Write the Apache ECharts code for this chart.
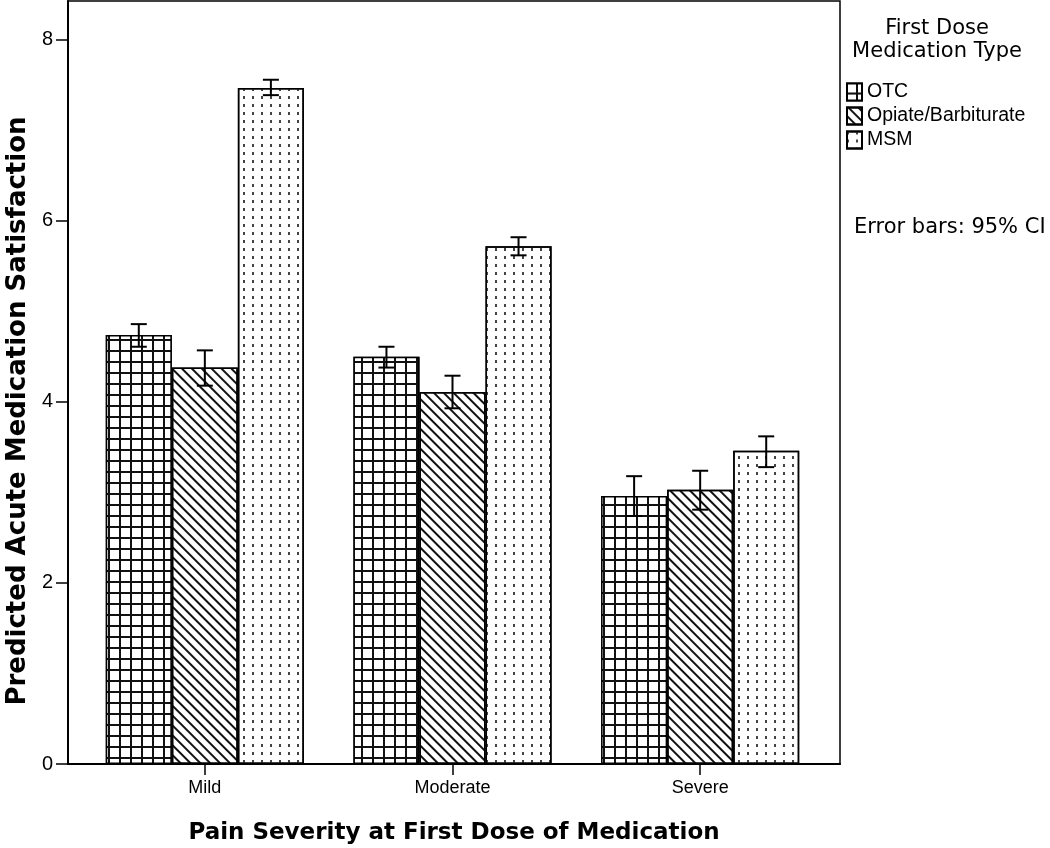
<!DOCTYPE html>
<html><head><meta charset="utf-8">
<script src="https://cdn.jsdelivr.net/npm/echarts@6/dist/echarts.min.js"></script>
<style>html,body{margin:0;padding:0;background:#fff}#c{width:1050px;height:848px}</style>
</head><body><div id="c"></div>
<script>
const categories = ['Mild', 'Moderate', 'Severe'];
const seriesNames = ['OTC', 'Opiate/Barbiturate', 'MSM'];
const otcMean = [4.74, 4.50, 2.96];
const otcLow = [4.61, 4.38, 2.74];
const otcHigh = [4.86, 4.61, 3.18];
const opiMean = [4.38, 4.11, 3.03];
const opiLow = [4.18, 3.93, 2.81];
const opiHigh = [4.57, 4.29, 3.24];
const msmMean = [7.47, 5.72, 3.46];
const msmLow = [7.39, 5.62, 3.28];
const msmHigh = [7.56, 5.82, 3.62];
const yTicks = [0, 2, 4, 6, 8];
const yMax = 8.43;

const means = [otcMean, opiMean, msmMean];
const lows = [otcLow, opiLow, msmLow];
const highs = [otcHigh, opiHigh, msmHigh];

const decals = [
  { symbol: 'rect', symbolSize: 1, symbolKeepAspect: false, color: '#fff', dashArrayX: [9, 2], dashArrayY: [9, 2] },
  { symbol: 'rect', symbolSize: 1, symbolKeepAspect: false, color: '#111', dashArrayX: [2, 5], dashArrayY: [10, 0], rotation: -Math.PI / 4 },
  { symbol: 'rect', symbolSize: 1, symbolKeepAspect: false, color: '#444', dashArrayX: [2, 7], dashArrayY: [3, 5] }
];
const fills = ['#111', '#fff', '#fff'];

const chart = echarts.init(document.getElementById('c'), null, { renderer: 'canvas' });

const barSeries = seriesNames.map((n, i) => ({
  name: n, type: 'bar', xAxisIndex: 1, yAxisIndex: 1,
  data: means[i], barGap: '0%', barCategoryGap: '20%',
  itemStyle: { color: fills[i], borderColor: '#000', borderWidth: 1.5, decal: decals[i] },
  emphasis: { disabled: true }, z: 2
}));

const errSeries = seriesNames.map((n, i) => ({
  name: 'err' + i, type: 'custom', xAxisIndex: 1, yAxisIndex: 1, z: 5,
  data: categories.map((c, k) => [k, lows[i][k], highs[i][k]]),
  encode: { x: 0, y: [1, 2] },
  renderItem: function (params, api) {
    const k = api.value(0);
    const pLo = api.coord([k, api.value(1)]);
    const pHi = api.coord([k, api.value(2)]);
    const band = api.size([1, 0])[0];
    const bw = band * 0.8 / 3;
    const x = pLo[0] + (i - 1) * bw;
    const cap = 8;
    const st = { stroke: '#000', lineWidth: 2 };
    return { type: 'group', children: [
      { type: 'line', shape: { x1: x, y1: pHi[1], x2: x, y2: pLo[1] }, style: st },
      { type: 'line', shape: { x1: x - cap, y1: pHi[1], x2: x + cap, y2: pHi[1] }, style: st },
      { type: 'line', shape: { x1: x - cap, y1: pLo[1], x2: x + cap, y2: pLo[1] }, style: st }
    ]};
  }
}));

const option = {
  animation: false,
  backgroundColor: '#fff',
  grid: [
    { left: 68, right: 210, top: 1, bottom: 84, show: true, borderColor: '#000', borderWidth: 1.5, backgroundColor: 'transparent', outerBoundsMode: 'none', containLabel: false },
    { left: 81, right: 226, top: 1, bottom: 84, outerBoundsMode: 'none', containLabel: false }
  ],
  xAxis: [
    { type: 'value', gridIndex: 0, min: 0, max: 1, axisLabel: { show: false }, axisTick: { show: false }, splitLine: { show: false },
      axisLine: { show: true, lineStyle: { color: '#000', width: 2 } },
      name: 'Pain Severity at First Dose of Medication', nameLocation: 'middle', nameGap: 58,
      nameTextStyle: { fontFamily: 'DejaVu Sans', fontWeight: 'bold', fontSize: 23, color: '#000' } },
    { type: 'category', gridIndex: 1, data: categories, axisLine: { show: false },
      axisTick: { show: true, alignWithLabel: true, length: 11, lineStyle: { color: '#000', width: 1.5 } },
      axisLabel: { fontFamily: 'Liberation Sans', fontSize: 18, color: '#000', margin: 15 } }
  ],
  yAxis: [
    { type: 'value', gridIndex: 0, min: 0, max: yMax, interval: 2,
      axisLine: { show: true, lineStyle: { color: '#000', width: 2 } },
      axisTick: { show: true, length: 12, customValues: yTicks, lineStyle: { color: '#000', width: 1.5 } },
      axisLabel: { customValues: yTicks, fontFamily: 'Liberation Sans', fontSize: 20, color: '#000', margin: 15 },
      splitLine: { show: false } },
    { type: 'value', gridIndex: 1, min: 0, max: yMax, show: false, splitLine: { show: false } }
  ],
  legend: {
    data: seriesNames, orient: 'vertical', left: 841, top: 77, itemWidth: 15, itemHeight: 17, itemGap: 4,
    icon: 'rect', selectedMode: false,
    textStyle: { fontFamily: 'Liberation Sans', fontSize: 19.5, color: '#000' }
  },
  graphic: [
    { type: 'text', x: 937, y: 17, style: { text: 'First Dose\nMedication Type', textAlign: 'center', fontFamily: 'DejaVu Sans', fontSize: 21, lineHeight: 23, fill: '#000' } },
    { type: 'text', x: 854, y: 228, style: { text: 'Error bars: 95% CI', textAlign: 'left', textVerticalAlign: 'middle', fontFamily: 'DejaVu Sans', fontSize: 21, fill: '#000' } },
    { type: 'text', x: 18, y: 411, rotation: Math.PI / 2, style: { text: 'Predicted Acute Medication Satisfaction', textAlign: 'center', textVerticalAlign: 'middle', fontFamily: 'DejaVu Sans', fontWeight: 'bold', fontSize: 26, fill: '#000' } }
  ],
  series: barSeries.concat(errSeries)
};
chart.setOption(option);
</script>
</body></html>
